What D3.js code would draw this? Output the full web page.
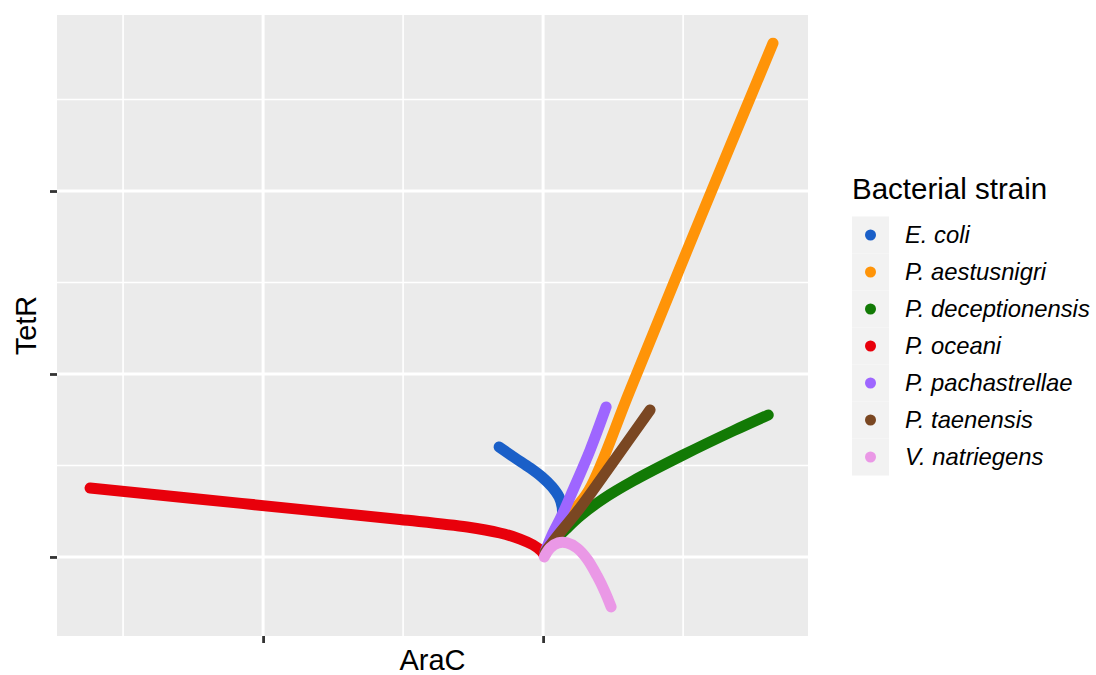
<!DOCTYPE html>
<html>
<head>
<meta charset="utf-8">
<script src="https://cdn.jsdelivr.net/npm/d3@7"></script>
<style>
  html, body { margin: 0; padding: 0; background: #ffffff; }
  svg { display: block; font-family: "Liberation Sans", Arial, Helvetica, sans-serif; }
</style>
</head>
<body>
<svg id="chart" width="1096" height="675"></svg>
<script>
// Strain names (legend order) and their colours
const strains = ["E. coli", "P. aestusnigri", "P. deceptionensis", "P. oceani",
                 "P. pachastrellae", "P. taenensis", "V. natriegens"];
const strainColors = ["#1a5fc8", "#ff9408", "#127a05", "#e8000b",
                      "#9e66ff", "#7a4722", "#ea98e6"];

// Trajectories in (AraC, TetR) space, one array of [AraC, TetR] per strain
const ecoli = [[0.011, 0.038], [0.036, 0.093], [0.057, 0.158], [0.068, 0.219], [0.068, 0.273],
               [0.057, 0.328], [0.032, 0.383], [-0.004, 0.437], [-0.046, 0.486], [-0.100, 0.541],
               [-0.157, 0.601]];
const aestusnigri = [[0.007, 0.022], [0.046, 0.120], [0.096, 0.230], [0.164, 0.366],
                     [0.311, 0.913], [0.561, 1.850], [0.821, 2.808]];
const deceptionensis = [[0.004, 0.016], [0.011, 0.033], [0.036, 0.082], [0.079, 0.148], [0.132, 0.224],
                        [0.214, 0.317], [0.321, 0.415], [0.500, 0.557], [0.679, 0.689], [0.804, 0.776]];
const oceani = [[0.004, 0.011], [-0.007, 0.033], [-0.036, 0.066], [-0.082, 0.098], [-0.154, 0.131],
                [-0.271, 0.164], [-0.511, 0.205], [-0.868, 0.260], [-1.250, 0.320], [-1.618, 0.377]];
const pachastrellae = [[0.007, 0.027], [0.032, 0.120], [0.068, 0.230], [0.107, 0.366],
                       [0.168, 0.585], [0.225, 0.820]];
const taenensis = [[0.007, 0.027], [0.054, 0.120], [0.132, 0.268], [0.250, 0.519], [0.382, 0.803]];
const natriegens = [[0.004, 0.000], [0.025, 0.049], [0.054, 0.077], [0.086, 0.077], [0.121, 0.049],
                    [0.157, -0.011], [0.193, -0.104], [0.221, -0.191], [0.243, -0.273]];

const seriesData = [ecoli, aestusnigri, deceptionensis, oceani, pachastrellae, taenensis, natriegens];

// Axis breaks (labels are intentionally blank)
const xMajor = [-1, 0];
const xMinor = [-1.5, -0.5, 0.5];
const yMajor = [0, 1, 2];
const yMinor = [0.5, 1.5, 2.5];

const svg = d3.select("#chart");
const panel = { left: 57, top: 15, right: 808, bottom: 636 };

const x = d3.scaleLinear().domain([-1.736, 0.946]).range([panel.left, panel.right]);
const y = d3.scaleLinear().domain([-0.432, 2.962]).range([panel.bottom, panel.top]);

// Panel background
svg.append("rect")
  .attr("x", panel.left).attr("y", panel.top)
  .attr("width", panel.right - panel.left).attr("height", panel.bottom - panel.top)
  .attr("fill", "#ebebeb");

// Grid lines
const grid = svg.append("g");
grid.selectAll(".xminor").data(xMinor).join("line")
  .attr("x1", d => x(d)).attr("x2", d => x(d))
  .attr("y1", panel.top).attr("y2", panel.bottom)
  .attr("stroke", "#ffffff").attr("stroke-width", 1.6);
grid.selectAll(".yminor").data(yMinor).join("line")
  .attr("y1", d => y(d)).attr("y2", d => y(d))
  .attr("x1", panel.left).attr("x2", panel.right)
  .attr("stroke", "#ffffff").attr("stroke-width", 1.6);
grid.selectAll(".xmajor").data(xMajor).join("line")
  .attr("x1", d => x(d)).attr("x2", d => x(d))
  .attr("y1", panel.top).attr("y2", panel.bottom)
  .attr("stroke", "#ffffff").attr("stroke-width", 3);
grid.selectAll(".ymajor").data(yMajor).join("line")
  .attr("y1", d => y(d)).attr("y2", d => y(d))
  .attr("x1", panel.left).attr("x2", panel.right)
  .attr("stroke", "#ffffff").attr("stroke-width", 3);

// Axes: tick marks only
const xAxis = svg.append("g")
  .attr("transform", `translate(0,${panel.bottom})`)
  .call(d3.axisBottom(x).tickValues(xMajor).tickFormat(() => "").tickSize(7).tickSizeOuter(0));
const yAxis = svg.append("g")
  .attr("transform", `translate(${panel.left},0)`)
  .call(d3.axisLeft(y).tickValues(yMajor).tickFormat(() => "").tickSize(7).tickSizeOuter(0));
[xAxis, yAxis].forEach(a => {
  a.select(".domain").remove();
  a.selectAll(".tick line").attr("stroke", "#333333").attr("stroke-width", 2.8);
});

// Trajectories
const line = d3.line()
  .x(d => x(d[0]))
  .y(d => y(d[1]))
  .curve(d3.curveCatmullRom.alpha(0.5));

svg.append("g").selectAll("path")
  .data(seriesData)
  .join("path")
  .attr("d", line)
  .attr("fill", "none")
  .attr("stroke", (d, i) => strainColors[i])
  .attr("stroke-width", 11)
  .attr("stroke-linecap", "round")
  .attr("stroke-linejoin", "round");

// Axis titles
svg.append("text")
  .attr("x", (panel.left + panel.right) / 2).attr("y", 670)
  .attr("text-anchor", "middle")
  .attr("font-size", 29).attr("fill", "#000")
  .text("AraC");
svg.append("text")
  .attr("transform", `translate(36,${(panel.top + panel.bottom) / 2}) rotate(-90)`)
  .attr("text-anchor", "middle")
  .attr("font-size", 29).attr("fill", "#000")
  .text("TetR");

// Legend
const legend = svg.append("g").attr("transform", "translate(852,0)");
legend.append("text")
  .attr("x", 0).attr("y", 199)
  .attr("font-size", 29.5).attr("fill", "#000")
  .text("Bacterial strain");

const keyTop = 216.5, keySize = 37;
const items = legend.selectAll(".item").data(strains).join("g")
  .attr("transform", (d, i) => `translate(0,${keyTop + i * keySize})`);
items.append("rect")
  .attr("width", keySize).attr("height", keySize)
  .attr("fill", "#f2f2f2");
items.append("circle")
  .attr("cx", keySize / 2).attr("cy", keySize / 2).attr("r", 5.5)
  .attr("fill", (d, i) => strainColors[i]);
items.append("text")
  .attr("x", 53).attr("y", keySize / 2 + 8.3)
  .attr("font-size", 23.8).attr("font-style", "italic").attr("fill", "#000")
  .text(d => d);
</script>
</body>
</html>
